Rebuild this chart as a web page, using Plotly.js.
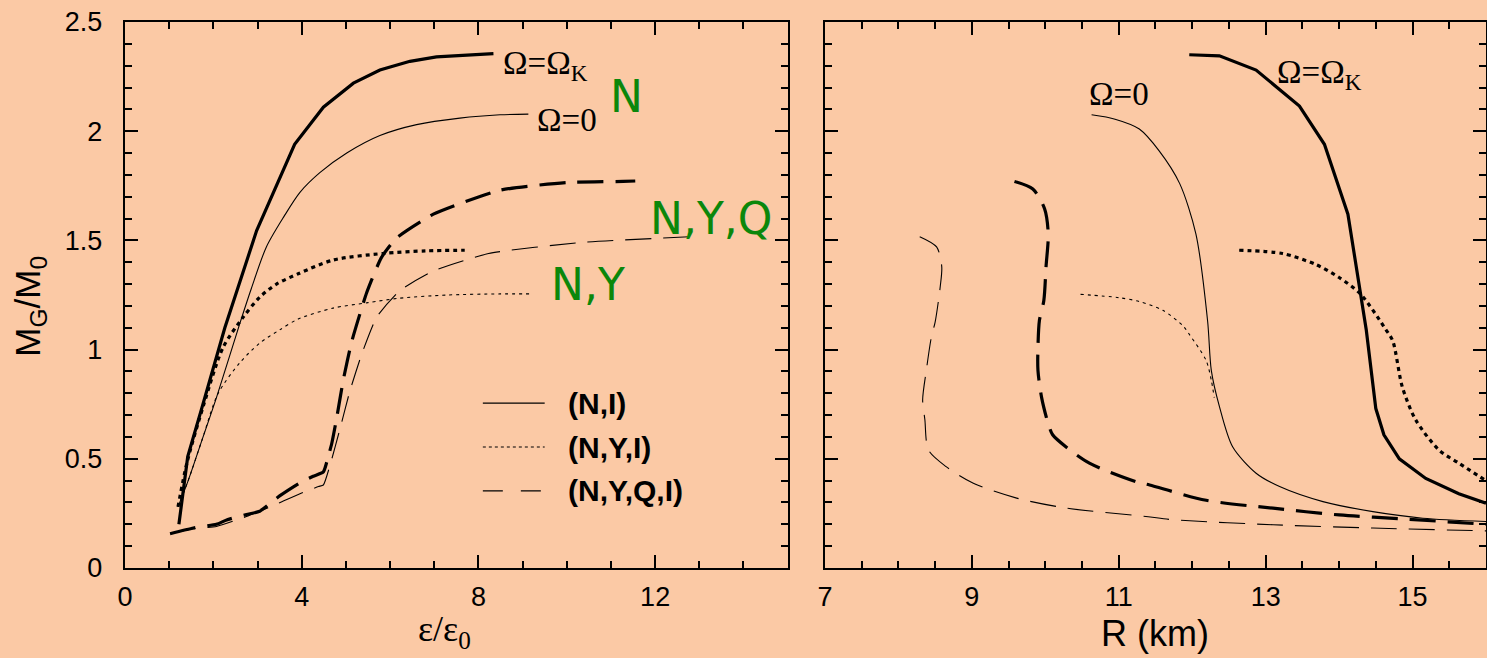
<!DOCTYPE html>
<html>
<head>
<meta charset="utf-8">
<script src="https://cdn.plot.ly/plotly-3.0.1.min.js"></script>
<style>
  html, body { margin: 0; padding: 0; background: #FBC9A5; }
  #chart { width: 1487px; height: 658px; }
</style>
</head>
<body>
<div id="chart"></div>
<script>
// ---- Gravitational mass vs central energy density (left) and vs radius (right) ----

// (N,I), Omega = Omega_K
const epsN_K = [1.22, 1.42, 1.75, 2.26, 2.98, 3.84, 4.49, 5.17, 5.77, 6.45, 7.05, 7.8, 8.34];
const mN_K_eps = [0.20, 0.51, 0.74, 1.10, 1.545, 1.94, 2.11, 2.22, 2.28, 2.32, 2.34, 2.35, 2.355];
// (N,I), Omega = 0
const epsN_0 = [1.2, 1.43, 1.75, 2.07, 2.6, 2.86, 3.2, 3.6, 3.96, 4.41, 5.02, 5.77, 6.6, 7.58, 8.49, 9.13];
const mN_0_eps = [0.28, 0.40, 0.59, 0.78, 1.12, 1.28, 1.47, 1.61, 1.72, 1.81, 1.90, 1.98, 2.03, 2.06, 2.075, 2.078];
// (N,Y,I), Omega = Omega_K
const epsNY_K = [1.2, 1.4, 1.77, 2.22, 2.68, 3.05, 3.43, 3.92, 4.71, 5.84, 6.8, 7.69];
const mNY_K_eps = [0.28, 0.48, 0.74, 1.01, 1.15, 1.24, 1.30, 1.347, 1.41, 1.44, 1.452, 1.455];
// (N,Y,I), Omega = 0
const epsNY_0 = [1.2, 1.43, 1.75, 2.11, 2.6, 3.05, 3.5, 3.92, 4.71, 5.5, 6.2, 7.3, 8.49, 9.2];
const mNY_0_eps = [0.28, 0.40, 0.59, 0.80, 0.94, 1.03, 1.09, 1.14, 1.19, 1.215, 1.235, 1.25, 1.255, 1.255];
// (N,Y,Q,I), Omega = Omega_K
const epsNYQ_K = [1.02, 1.55, 2.07, 2.3, 2.75, 3.05, 3.5, 3.96, 4.26, 4.49, 4.6, 4.68, 4.79, 4.94, 5.13, 5.47, 5.8, 6.14, 6.98, 8.49, 10.0, 11.28, 11.55];
const mNYQ_K_eps = [0.157, 0.183, 0.20, 0.22, 0.245, 0.26, 0.33, 0.39, 0.42, 0.44, 0.51, 0.57, 0.685, 0.86, 1.035, 1.26, 1.42, 1.51, 1.62, 1.73, 1.765, 1.77, 1.772];
// (N,Y,Q,I), Omega = 0
const epsNYQ_0 = [1.02, 1.55, 2.07, 2.75, 3.4, 3.96, 4.38, 4.49, 4.64, 4.87, 5.09, 5.36, 5.7, 6.22, 6.98, 8.23, 10.3, 12.83];
const mNYQ_0_eps = [0.157, 0.18, 0.19, 0.236, 0.29, 0.34, 0.373, 0.38, 0.47, 0.64, 0.81, 0.98, 1.15, 1.27, 1.36, 1.44, 1.49, 1.517];

// Mass-radius relations
const rN_0 = [10.63, 10.95, 11.28, 11.55, 11.83, 12.05, 12.21, 12.26, 12.37, 12.55, 12.87, 13.19, 13.78, 14.46, 15.14, 16.0];
const mN_0_r = [2.075, 2.055, 2.01, 1.91, 1.76, 1.53, 1.13, 0.905, 0.74, 0.555, 0.434, 0.373, 0.304, 0.258, 0.228, 0.213];
const rN_K = [11.96, 12.37, 12.87, 13.46, 13.8, 14.12, 14.37, 14.41, 14.5, 14.61, 14.82, 15.18, 15.63, 16.0];
const mN_K_r = [2.35, 2.345, 2.28, 2.115, 1.94, 1.62, 1.09, 0.98, 0.73, 0.61, 0.50, 0.41, 0.34, 0.297];
const rNY_K = [12.64, 13.23, 13.68, 14.0, 14.29, 14.63, 14.73, 14.86, 15.04, 15.36, 15.63, 16.0];
const mNY_K_r = [1.455, 1.44, 1.39, 1.33, 1.255, 1.095, 1.04, 0.83, 0.68, 0.54, 0.48, 0.40];
const rNY_0 = [10.48, 11.0, 11.28, 11.6, 11.87, 11.96, 12.19, 12.26, 12.3];
const mNY_0_r = [1.253, 1.238, 1.22, 1.18, 1.11, 1.07, 0.95, 0.86, 0.78];
const rNYQ_K = [9.58, 9.83, 9.99, 10.04, 10.01, 9.98, 9.92, 9.9, 9.9, 9.95, 10.04, 10.1, 10.28, 10.6, 11.24, 11.42, 12.19, 13.1, 14.0, 14.91, 16.0];
const mNYQ_K_r = [1.77, 1.735, 1.645, 1.53, 1.38, 1.225, 1.134, 1.01, 0.905, 0.78, 0.66, 0.61, 0.555, 0.48, 0.395, 0.38, 0.31, 0.274, 0.243, 0.224, 0.20];
const rNYQ_0 = [8.29, 8.52, 8.59, 8.57, 8.5, 8.45, 8.38, 8.33, 8.36, 8.41, 8.65, 9.02, 9.61, 10.29, 11.37, 11.74, 13.1, 14.46, 16.0];
const mNYQ_0_r = [1.517, 1.47, 1.38, 1.29, 1.126, 1.06, 0.905, 0.77, 0.68, 0.54, 0.464, 0.388, 0.32, 0.274, 0.236, 0.221, 0.198, 0.183, 0.17];

// Legend entries
const legendLabels = ['(N,I)', '(N,Y,I)', '(N,Y,Q,I)'];

const BG = '#FBC9A5';
const GREEN = '#0b870b';
const THICK = 3.2, THIN = 1.1;
const DASH = '26px,12px', DOT_THICK = '4px,4px', DOT_THIN = '3px,4px';

function curve(x, y, xa, width, dash, smooth) {
  const line = { color: 'black', width: width, dash: dash };
  if (smooth) { line.shape = 'spline'; line.smoothing = smooth; }
  return {
    x: x, y: y, xaxis: xa, yaxis: xa === 'x' ? 'y' : 'y2',
    type: 'scatter', mode: 'lines', hoverinfo: 'skip', showlegend: false,
    line: line
  };
}

const traces = [
  curve(epsN_0, mN_0_eps, 'x', THIN, 'solid', 0.8),
  curve(epsNY_0, mNY_0_eps, 'x', THIN, DOT_THIN, 0.8),
  curve(epsNYQ_0, mNYQ_0_eps, 'x', THIN, DASH, 0.5),
  curve(epsN_K, mN_K_eps, 'x', THICK, 'solid', 0),
  curve(epsNY_K, mNY_K_eps, 'x', THICK, DOT_THICK, 0.8),
  curve(epsNYQ_K, mNYQ_K_eps, 'x', THICK, DASH, 0.5),
  curve(rN_0, mN_0_r, 'x2', THIN, 'solid', 0.8),
  curve(rNY_0, mNY_0_r, 'x2', THIN, DOT_THIN, 0.8),
  curve(rNYQ_0, mNYQ_0_r, 'x2', THIN, DASH, 0.8),
  curve(rN_K, mN_K_r, 'x2', THICK, 'solid', 0),
  curve(rNY_K, mNY_K_r, 'x2', THICK, DOT_THICK, 0.8),
  curve(rNYQ_K, mNYQ_K_r, 'x2', THICK, DASH, 0.8)
];

const tickFont = { family: 'Liberation Sans, Arial, sans-serif', size: 27, color: 'black' };

function axisBase(extra) {
  return Object.assign({
    showline: true, linecolor: 'black', linewidth: 2.2, mirror: 'allticks',
    ticks: 'inside', ticklen: 13, tickwidth: 2, tickcolor: 'black',
    showgrid: false, zeroline: false, tickfont: tickFont, fixedrange: true
  }, extra);
}

const serif = 'Liberation Serif, Times New Roman, serif';
const annots = [
  { xref: 'x', yref: 'y', x: 8.5, y: 2.3, text: 'Ω=Ω<sub>K</sub>', xanchor: 'left', yanchor: 'middle', showarrow: false,
    font: { family: serif, size: 33, color: 'black' } },
  { xref: 'x', yref: 'y', x: 9.28, y: 2.05, text: 'Ω=0', xanchor: 'left', yanchor: 'middle', showarrow: false,
    font: { family: serif, size: 33, color: 'black' } },
  { xref: 'x2', yref: 'y2', x: 11.0, y: 2.17, text: 'Ω=0', xanchor: 'center', yanchor: 'middle', showarrow: false,
    font: { family: serif, size: 33, color: 'black' } },
  { xref: 'x2', yref: 'y2', x: 13.13, y: 2.26, text: 'Ω=Ω<sub>K</sub>', xanchor: 'left', yanchor: 'middle', showarrow: false,
    font: { family: serif, size: 33, color: 'black' } },
  { xref: 'x', yref: 'y', x: 11.36, y: 2.16, text: 'N', xanchor: 'center', yanchor: 'middle', showarrow: false,
    font: { family: 'DejaVu Sans, sans-serif', size: 44, color: GREEN } },
  { xref: 'x', yref: 'y', x: 13.27, y: 1.6, text: 'N,Y,Q', xanchor: 'center', yanchor: 'middle', showarrow: false,
    font: { family: 'DejaVu Sans, sans-serif', size: 44, color: GREEN } },
  { xref: 'x', yref: 'y', x: 10.48, y: 1.3, text: 'N,Y', xanchor: 'center', yanchor: 'middle', showarrow: false,
    font: { family: 'DejaVu Sans, sans-serif', size: 44, color: GREEN } },
  // axis titles
  { xref: 'paper', yref: 'paper', x: 0.235, y: -0.117, text: 'ε/ε<sub>0</sub>', xanchor: 'center', yanchor: 'middle', showarrow: false,
    font: { family: serif, size: 36, color: 'black' } },
  { xref: 'paper', yref: 'paper', x: 0.757, y: -0.12, text: 'R (km)', xanchor: 'center', yanchor: 'middle', showarrow: false,
    font: { family: 'Liberation Sans, Arial, sans-serif', size: 36, color: 'black' } },
  { xref: 'paper', yref: 'paper', x: -0.07, y: 0.48, text: 'M<sub>G</sub>/M<sub>0</sub>', textangle: -90, xanchor: 'center', yanchor: 'middle', showarrow: false,
    font: { family: 'Liberation Sans, Arial, sans-serif', size: 35, color: 'black' } }
];

// legend key lines and labels
const legDash = ['solid', 'dot', '20px,18px'];
const legY = [0.755, 0.554, 0.353];
const shapes = [];
legendLabels.forEach((lab, i) => {
  shapes.push({ type: 'line', xref: 'x', yref: 'y', x0: 8.1, x1: 9.5, y0: legY[i], y1: legY[i],
    line: { color: 'black', width: 1.1, dash: legDash[i] } });
  annots.push({ xref: 'x', yref: 'y', x: 9.98, y: legY[i], text: '<b>' + lab + '</b>', xanchor: 'left', yanchor: 'middle',
    showarrow: false, font: { family: 'Liberation Sans, Arial, sans-serif', size: 30, color: 'black' } });
});

const layout = {
  width: 1487, height: 658,
  margin: { l: 125, r: 1, t: 22, b: 90, pad: 0 },
  paper_bgcolor: BG, plot_bgcolor: BG,
  showlegend: false,
  xaxis: axisBase({ domain: [0, 0.4869], range: [0, 15], tick0: 0, dtick: 4, anchor: 'y',
    minor: { dtick: 1, ticklen: 7, tickwidth: 2, ticks: 'inside', tickcolor: 'black' }, ticklabelstandoff: 3 }),
  yaxis: axisBase({ domain: [0, 1], range: [0, 2.5], tick0: 0, dtick: 0.5, anchor: 'x',
    minor: { dtick: 0.1, ticklen: 7, tickwidth: 2, ticks: 'inside', tickcolor: 'black' }, ticklabelstandoff: 15 }),
  xaxis2: axisBase({ domain: [0.5143, 1], range: [7, 16], tick0: 7, dtick: 2, anchor: 'y2',
    minor: { dtick: 0.5, ticklen: 7, tickwidth: 2, ticks: 'inside', tickcolor: 'black' }, ticklabelstandoff: 3 }),
  yaxis2: axisBase({ domain: [0, 1], range: [0, 2.5], tick0: 0, dtick: 0.5, anchor: 'x2', showticklabels: false,
    minor: { dtick: 0.1, ticklen: 7, tickwidth: 2, ticks: 'inside', tickcolor: 'black' } }),
  annotations: annots,
  shapes: shapes
};

Plotly.newPlot('chart', traces, layout, { staticPlot: true, displayModeBar: false });
</script>
</body>
</html>
